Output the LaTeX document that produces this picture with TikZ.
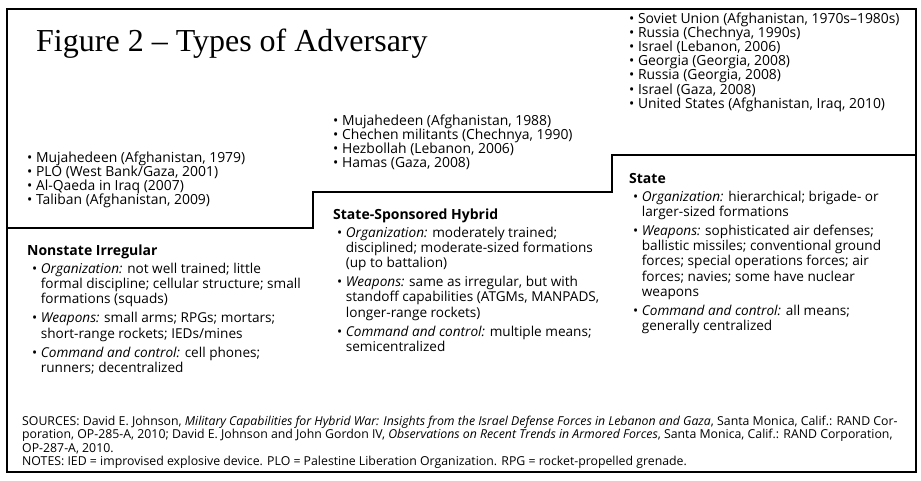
\documentclass[tikz,border=0pt]{standalone}
\usepackage{fontspec}
\setmainfont{Open Sans}
\newfontfamily\titlefont{Liberation Serif}
\usetikzlibrary{positioning}

\newcommand{\listfont}{\fontsize{13.9}{14.2}\selectfont}
\newcommand{\bodyfont}{\fontsize{13.6}{15.3}\selectfont}
\newcommand{\headfont}{\bfseries\fontsize{14}{15}\selectfont}
\newcommand{\srcfont}{\fontsize{12.3}{13.5}\selectfont}
\newcommand{\bul}{\textbullet\ }
\newcommand{\ind}{\hphantom{\textbullet\ }}

\tikzset{
  txt/.style={anchor=base west, inner sep=0pt, align=left},
  frame/.style={line width=1.6pt},
  stair/.style={line width=2.8pt}
}

\begin{document}
\begin{tikzpicture}[x=1pt,y=-1pt]
\useasboundingbox (0,0) rectangle (921,480);

% Draw the outer frame and the stair line
\draw[frame] (7,9) rectangle (916,472);
\draw[stair] (7,228) -- (313,228) -- (313,192) -- (612,192) -- (612,155) -- (916,155);

% Title
\node[txt, font=\titlefont\fontsize{32}{34}\selectfont] (title) at (36,51) {Figure 2 – Types of Adversary};

% Examples above each step (anchored at the last line)
\node[txt, font=\listfont] (exNonstate) at (27,204.6) {\bul Mujahedeen (Afghanistan, 1979)\\
  \bul PLO (West Bank/Gaza, 2001)\\
  \bul Al-Qaeda in Iraq (2007)\\
  \bul Taliban (Afghanistan, 2009)};
\node[txt, font=\listfont] (exHybrid) at (333,167.6) {\bul Mujahedeen (Afghanistan, 1988)\\
  \bul Chechen militants (Chechnya, 1990)\\
  \bul Hezbollah (Lebanon, 2006)\\
  \bul Hamas (Gaza, 2008)};
\node[txt, font=\listfont] (exState) at (629,108.2) {\bul Soviet Union (Afghanistan, 1970s–1980s)\\
  \bul Russia (Chechnya, 1990s)\\
  \bul Israel (Lebanon, 2006)\\
  \bul Georgia (Georgia, 2008)\\
  \bul Russia (Georgia, 2008)\\
  \bul Israel (Gaza, 2008)\\
  \bul United States (Afghanistan, Iraq, 2010)};

% Nonstate irregular
\node[txt, font=\headfont] (hdNonstate) at (27,255) {Nonstate Irregular};
\node[txt, font=\bodyfont] (bdNonstate) at (32,372.5) {\bul\textit{Organization:} not well trained; little\\
  \ind formal discipline; cellular structure; small\\
  \ind formations (squads)\\[3.7pt]
  \bul\textit{Weapons:} small arms; RPGs; mortars;\\
  \ind short-range rockets; IEDs/mines\\[3.7pt]
  \bul\textit{Command and control:} cell phones;\\
  \ind runners; decentralized};

% State-sponsored hybrid
\node[txt, font=\headfont] (hdHybrid) at (333,219) {State-Sponsored Hybrid};
\node[txt, font=\bodyfont] (bdHybrid) at (337,351.5) {\bul\textit{Organization:} moderately trained;\\
  \ind disciplined; moderate-sized formations\\
  \ind (up to battalion)\\[3.7pt]
  \bul\textit{Weapons:} same as irregular, but with\\
  \ind standoff capabilities (ATGMs, MANPADS,\\
  \ind longer-range rockets)\\[3.7pt]
  \bul\textit{Command and control:} multiple means;\\
  \ind semicentralized};

% State
\node[txt, font=\headfont] (hdState) at (629,183) {State};
\node[txt, font=\bodyfont] (bdState) at (633,330.8) {\bul\textit{Organization:} hierarchical; brigade- or\\
  \ind larger-sized formations\\[3.7pt]
  \bul\textit{Weapons:} sophisticated air defenses;\\
  \ind ballistic missiles; conventional ground\\
  \ind forces; special operations forces; air\\
  \ind forces; navies; some have nuclear\\
  \ind weapons\\[3.7pt]
  \bul\textit{Command and control:} all means;\\
  \ind generally centralized};

% Sources and notes
\node[txt, font=\srcfont] (sources) at (22,465.5) {SOURCES: David E. Johnson, \textit{Military Capabilities for Hybrid War: Insights from the Israel Defense Forces in Lebanon and Gaza}, Santa Monica, Calif.: RAND Cor-\\
  poration, OP-285-A, 2010; David E. Johnson and John Gordon IV, \textit{Observations on Recent Trends in Armored Forces}, Santa Monica, Calif.: RAND Corporation,\\
  OP-287-A, 2010.\\
  NOTES: IED = improvised explosive device. PLO = Palestine Liberation Organization. RPG = rocket-propelled grenade.};
\end{tikzpicture}
\end{document}
